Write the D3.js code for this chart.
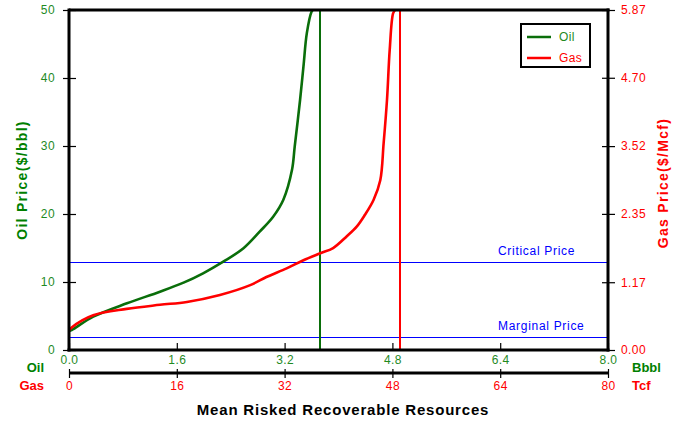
<!DOCTYPE html>
<html><head><meta charset="utf-8">
<script src="https://cdn.jsdelivr.net/npm/d3@7"></script>
<style>body{margin:0;background:#fff}svg{display:block;font-family:"Liberation Sans",Arial,sans-serif}</style>
</head><body><svg id="c" width="689" height="426"></svg>
<script>
// Oil curve: cumulative resources (Bbbl) vs oil price ($/bbl)
const oilVolume = [0.00,0.04,0.36,0.86,1.35,1.70,1.99,2.29,2.59,2.83,3.03,3.18,3.31,3.35,3.43,3.48,3.53,3.60,3.62];
const oilPrice  = [2.8,2.94,4.9,6.87,8.57,9.9,11.28,12.99,14.96,17.4,19.6,22.06,26.5,29.9,36.8,41.7,46.6,49.75,50];
// Gas curve: cumulative resources (Tcf) vs gas price ($/Mcf)
const gasVolume = [0.0,0.4,3.6,8.56,13.5,17.5,22.4,26.9,29.3,32.3,34.8,37.3,39.2,41.2,42.7,43.9,45.2,46.2,46.7,47.2,47.6,48.1,48.4];
const gasPrice  = [0.34,0.39,0.60,0.71,0.78,0.83,0.95,1.12,1.26,1.41,1.55,1.67,1.76,1.96,2.13,2.33,2.59,2.93,3.57,4.32,5.18,5.81,5.87];
// Mean values (vertical lines)
const oilMean = 3.72, gasMean = 49.1;
// Economic thresholds in oil price units
const thresholdNames = ["Critical Price","Marginal Price"];
const thresholdValues = [12.9,1.9];
// Axis ticks
const oilPriceTicks = [0,10,20,30,40,50];
const gasPriceTicks = [0,1.17,2.35,3.52,4.70,5.87];
const oilVolTicks = [0,1.6,3.2,4.8,6.4,8.0];
const gasVolTicks = [0,16,32,48,64,80];
const legendNames = ["Oil","Gas"];

const GREEN="#0a6e0a", LGREEN="#1f8a1f", RED="#ff0000", BLUE="#0000ff";
const L=69,R=608,T=10,B=350, B2=373;
const svg=d3.select("#c");
const xo=d3.scaleLinear().domain([0,8]).range([L,R]);
const xg=d3.scaleLinear().domain([0,80]).range([L,R]);
const yo=d3.scaleLinear().domain([0,50]).range([B,T]);
const yg=d3.scaleLinear().domain([0,5.87]).range([B,T]);
const px=v=>Math.round(v)+0.5;

// threshold lines
thresholdValues.forEach((v,i)=>{
  svg.append("line").attr("x1",L).attr("x2",R).attr("y1",px(yo(v))).attr("y2",px(yo(v))).attr("stroke",BLUE).attr("stroke-width",1);
  svg.append("text").attr("x",498).attr("y",Math.round(yo(v))-7).attr("fill",BLUE).attr("font-size",12).attr("letter-spacing",0.7).text(thresholdNames[i]);
});

// vertical mean lines
svg.append("line").attr("x1",Math.round(xo(oilMean))).attr("x2",Math.round(xo(oilMean))).attr("y1",T).attr("y2",B).attr("stroke",GREEN).attr("stroke-width",2);
svg.append("line").attr("x1",Math.round(xg(gasMean))).attr("x2",Math.round(xg(gasMean))).attr("y1",T).attr("y2",B).attr("stroke",RED).attr("stroke-width",2);

// curves
svg.append("path").datum(oilVolume.map((v,i)=>[v,oilPrice[i]])).attr("d",d3.line().x(d=>xo(d[0])).y(d=>yo(d[1])).curve(d3.curveCatmullRom)).attr("fill","none").attr("stroke",GREEN).attr("stroke-width",2.6);
svg.append("path").datum(gasVolume.map((v,i)=>[v,gasPrice[i]])).attr("d",d3.line().x(d=>xg(d[0])).y(d=>yg(d[1])).curve(d3.curveCatmullRom)).attr("fill","none").attr("stroke",RED).attr("stroke-width",2.6);

// axes
function style(g,color){
  g.select(".domain").remove();
  g.selectAll(".tick line").attr("stroke","#000").attr("stroke-width",1.2);
  g.selectAll(".tick text").attr("fill",color).attr("font-size",12).attr("letter-spacing",0.4).attr("font-family","Liberation Sans, Arial, sans-serif");
}
const gl=svg.append("g").attr("transform",`translate(${L},0)`).call(d3.axisLeft(yo).tickValues(oilPriceTicks).tickSize(6).tickPadding(8).tickFormat(d3.format("d")));
style(gl,LGREEN); gl.selectAll(".tick line").attr("x2",-6).attr("x1",7);
const gr=svg.append("g").attr("transform",`translate(${R},0)`).call(d3.axisRight(yg).tickValues(gasPriceTicks).tickSize(6).tickPadding(7).tickFormat(d3.format(".2f")));
style(gr,RED); gr.selectAll(".tick line").attr("x1",-6).attr("x2",7);
const gb=svg.append("g").attr("transform",`translate(0,${B})`).call(d3.axisBottom(xo).tickValues(oilVolTicks).tickSize(0).tickPadding(5).tickFormat(d3.format(".1f")));
style(gb,LGREEN); gb.selectAll(".tick line").attr("y1",-7).attr("y2",0);
const gb2=svg.append("g").attr("transform",`translate(0,${B2})`).call(d3.axisBottom(xg).tickValues(gasVolTicks).tickSize(5).tickPadding(3).tickFormat(d3.format("d")));
style(gb2,RED); gb2.selectAll(".tick line").attr("y1",-4).attr("y2",5);

// frame/axis lines
svg.append("line").attr("x1",L).attr("x2",R+1.5).attr("y1",T).attr("y2",T).attr("stroke","#000").attr("stroke-width",3);
svg.append("line").attr("x1",L).attr("x2",L).attr("y1",T-1.5).attr("y2",B+1.5).attr("stroke","#000").attr("stroke-width",3);
svg.append("line").attr("x1",R).attr("x2",R).attr("y1",T-1.5).attr("y2",B+1.5).attr("stroke","#000").attr("stroke-width",3);
svg.append("line").attr("x1",L-1.5).attr("x2",R+1.5).attr("y1",B).attr("y2",B).attr("stroke","#000").attr("stroke-width",3);
svg.append("line").attr("x1",L).attr("x2",R).attr("y1",B2).attr("y2",B2).attr("stroke","#000").attr("stroke-width",3);

// axis titles
svg.append("text").attr("transform","translate(27,180) rotate(-90)").attr("text-anchor","middle").attr("fill","#008000").attr("font-weight","bold").attr("font-size",14).attr("letter-spacing",1.3).text("Oil Price($/bbl)");
svg.append("text").attr("transform","translate(668,183) rotate(-90)").attr("text-anchor","middle").attr("fill",RED).attr("font-weight","bold").attr("font-size",14).attr("letter-spacing",1.3).text("Gas Price($/Mcf)");
svg.append("text").attr("x",343).attr("y",415).attr("text-anchor","middle").attr("fill","#000").attr("font-weight","bold").attr("font-size",15).attr("letter-spacing",0.8).text("Mean Risked Recoverable Resources");
svg.append("text").attr("x",44).attr("y",372).attr("text-anchor","end").attr("fill","#008000").attr("font-weight","bold").attr("font-size",13).text("Oil");
svg.append("text").attr("x",44).attr("y",390).attr("text-anchor","end").attr("fill",RED).attr("font-weight","bold").attr("font-size",13).text("Gas");
svg.append("text").attr("x",632).attr("y",372).attr("fill","#008000").attr("font-weight","bold").attr("font-size",13).text("Bbbl");
svg.append("text").attr("x",632).attr("y",390).attr("fill",RED).attr("font-weight","bold").attr("font-size",13).text("Tcf");

// legend
const lg=svg.append("g");
lg.append("rect").attr("x",521).attr("y",24).attr("width",69).attr("height",43).attr("fill","#fff").attr("stroke","#000").attr("stroke-width",2);
[GREEN,RED].forEach((c,i)=>{
  const y=37+i*21;
  lg.append("line").attr("x1",527).attr("x2",551).attr("y1",y).attr("y2",y).attr("stroke",c).attr("stroke-width",2.5);
  lg.append("text").attr("x",559).attr("y",y+4).attr("fill",i?RED:LGREEN).attr("font-size",12).attr("letter-spacing",0.4).text(legendNames[i]);
});
</script></body></html>
